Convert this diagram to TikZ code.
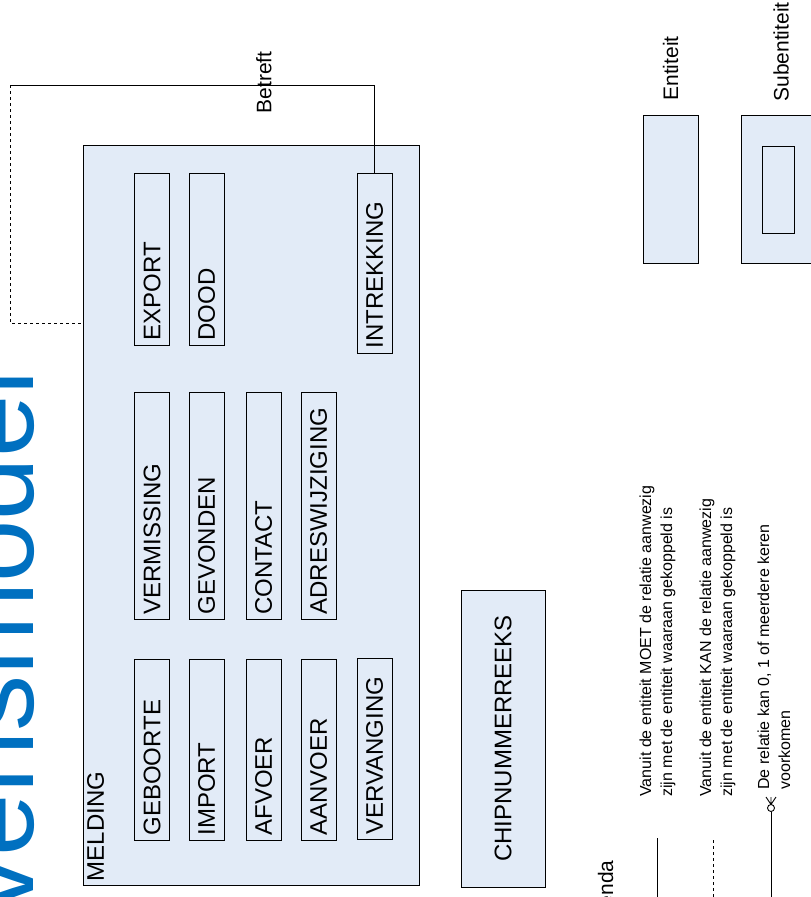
\documentclass[tikz,border=0pt]{standalone}
\usepackage{fontspec}
\setmainfont{Liberation Sans}
\usepackage{xcolor}
\usepackage{tikz}
\usetikzlibrary{positioning,calc}
\definecolor{entfill}{RGB}{226,235,247}
\definecolor{titleblue}{RGB}{0,112,192}

\begin{document}
\begin{tikzpicture}[x=1pt, y=-1pt, line width=0.9pt]
 \tikzset{entity/.style={draw, fill=entfill}, sub/.style={draw, fill=entfill, rotate=90, anchor=west, minimum height=35pt, inner xsep=5pt, inner ysep=2pt, align=left, text width=#1, font=\fontsize{24}{28}\selectfont}, legend/.style={rotate=90, anchor=north west, inner sep=0pt, align=left, font=\fontsize{16}{21}\selectfont}, caption/.style={rotate=90, inner sep=2pt, font=\fontsize{21}{24}\selectfont}};
  \useasboundingbox (0,0) rectangle (811,897);
  \clip (0,0) rectangle (811,897);
  \node[rotate=90, anchor=base east, inner sep=0pt, text=titleblue, font=\fontsize{112}{120}\selectfont] (title) at (33,370) {Gegevensmodel};
  \node[entity, minimum width=336pt, minimum height=740pt] (melding) at (251,515) {};
  \node[rotate=90, anchor=north west, inner sep=4pt, font=\fontsize{24}{28}\selectfont] (meldinglabel) at (melding.south west) {MELDING};
  \node[sub=171pt] (geboorte) at (152,841) {GEBOORTE};
  \node[sub=171pt] (import) at (206.5,841) {IMPORT};
  \node[sub=171pt] (afvoer) at (263.5,841) {AFVOER};
  \node[sub=171pt] (aanvoer) at (318.5,841) {AANVOER};
  \node[sub=171pt] (vervanging) at (374.5,840) {VERVANGING};
  \node[sub=217pt] (vermissing) at (152,620) {VERMISSING};
  \node[sub=217pt] (gevonden) at (206.5,620) {GEVONDEN};
  \node[sub=217pt] (contact) at (263.5,620) {CONTACT};
  \node[sub=217pt] (adreswijziging) at (318.5,620) {ADRESWIJZIGING};
  \node[sub=162pt] (export) at (152,346) {EXPORT};
  \node[sub=162pt] (dood) at (206.5,346) {DOOD};
  \node[sub=170pt] (intrekking) at (374.5,354) {INTREKKING};
  \node[entity, rotate=90, minimum width=297pt, minimum height=84pt, font=\fontsize{24}{28}\selectfont] (chipnummerreeks) at (503,738.5) {CHIPNUMMERREEKS};

  \coordinate (betreftA) at (374.5,85);
  \coordinate (betreftB) at (10,85);
  \coordinate (betreftC) at (10,323);
  \draw (intrekking.east) -- (betreftA) -- (betreftB);
  \draw[dashed] (betreftB) -- (betreftC) -- (melding.west |- betreftC);
  \node[caption, inner sep=0pt] (betreft) at (264,82.5) {Betreft};

  \node[entity, minimum width=55pt, minimum height=148pt] (entiteit) at (670.5,189) {};
  \node[caption, anchor=west] (entiteitlabel) at (670.5,103) {Entiteit};
  \node[entity, minimum width=80pt, minimum height=148pt] (subentiteit) at (781,189) {};
  \node[entity, minimum width=32pt, minimum height=87pt] (subinner) at (778,189.5) {};
  \node[caption, anchor=west] (subentiteitlabel) at (781,104) {Subentiteit};

  \node[rotate=90, anchor=base east, inner sep=0pt, font=\fontsize{21}{24}\selectfont] (legenda) at (613,860) {Legenda};
  \coordinate (moetA) at (657,838);
  \coordinate (moetB) at (657,897);
  \draw (moetA) -- (moetB);
  \coordinate (kanA) at (713,840);
  \coordinate (kanB) at (713,897);
  \draw[dashed] (kanA) -- (kanB);
  \coordinate (veelA) at (771,897);
  \coordinate (veelB) at (771,811.5);
  \draw (veelA) -- (veelB);
  \draw (771,808) circle (3.5);
  \draw (771,804.5) -- (766,797) (771,804.5) -- (771,797) (771,804.5) -- (776,797);
  \node[legend] (moettext) at (639,797) {Vanuit de entiteit MOET de relatie aanwezig\\zijn met de entiteit waaraan gekoppeld is};
  \node[legend] (kantext) at (699,797) {Vanuit de entiteit KAN de relatie aanwezig\\zijn met de entiteit waaraan gekoppeld is};
  \node[legend] (veeltext) at (757,790) {De relatie kan 0, 1 of meerdere keren\\voorkomen};
\end{tikzpicture}
\end{document}
